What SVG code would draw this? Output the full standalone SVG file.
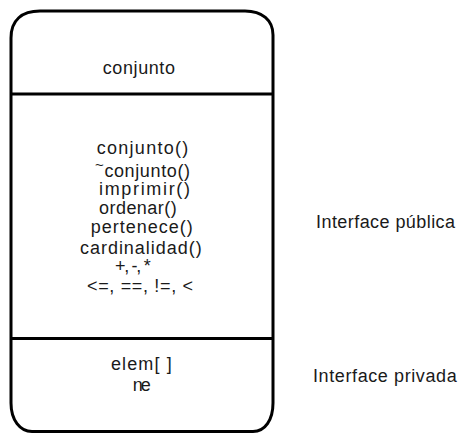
<svg xmlns="http://www.w3.org/2000/svg" width="459" height="433" viewBox="0 0 459 433">
<style>
.shape{fill:#fff;stroke:#000;stroke-width:3;stroke-linejoin:round}
.div{stroke:#000;stroke-width:3}
text{font-family:"Liberation Sans",Arial,Helvetica,sans-serif;font-size:18px;fill:#1a1a1a}
.t{font-size:15px}
</style>
<rect width="459" height="433" fill="#fff"/>
<g id="conjunto">
<path class="shape" d="M11,38 C11,20 22,11 40,11 L245,11 C262,11 273,20 273,35 L273,403 C273,420 265,431.5 253,431.5 L32,431.5 C20,431.5 11,420 11,403 Z"/>
<line class="div" x1="11" y1="94" x2="273" y2="94"/>
<line class="div" x1="11" y1="338.5" x2="273" y2="338.5"/>
<text x="102.7" y="73.5" textLength="72.3" lengthAdjust="spacing">conjunto</text>
<text x="96.7" y="153.5" textLength="91.6" lengthAdjust="spacing">conjunto()</text>
<text x="95" y="176.5" textLength="95" lengthAdjust="spacing"><tspan class="t" dy="-7">~</tspan><tspan dy="7">conjunto()</tspan></text>
<text x="99" y="194.5" textLength="91" lengthAdjust="spacing">imprimir()</text>
<text x="99" y="213.5" textLength="77.7" lengthAdjust="spacing">ordenar()</text>
<text x="90.7" y="233.3" textLength="102" lengthAdjust="spacing">pertenece()</text>
<text x="80" y="253.5" textLength="121.7" lengthAdjust="spacing">cardinalidad()</text>
<text x="115" y="272" textLength="35.7" lengthAdjust="spacing">+, -, *</text>
<text x="87" y="291.7" textLength="106" lengthAdjust="spacing">&lt;=, ==, !=, &lt;</text>
<text x="111" y="370" textLength="60.7" lengthAdjust="spacing">elem[ ]</text>
<text x="132.7" y="391" textLength="18" lengthAdjust="spacing">ne</text>
</g>
<g id="connectors"/>
<g id="labels">
<text x="316" y="228.3" textLength="139" lengthAdjust="spacing">Interface pública</text>
<text x="313" y="381.5" textLength="143.7" lengthAdjust="spacing">Interface privada</text>
</g>
</svg>
